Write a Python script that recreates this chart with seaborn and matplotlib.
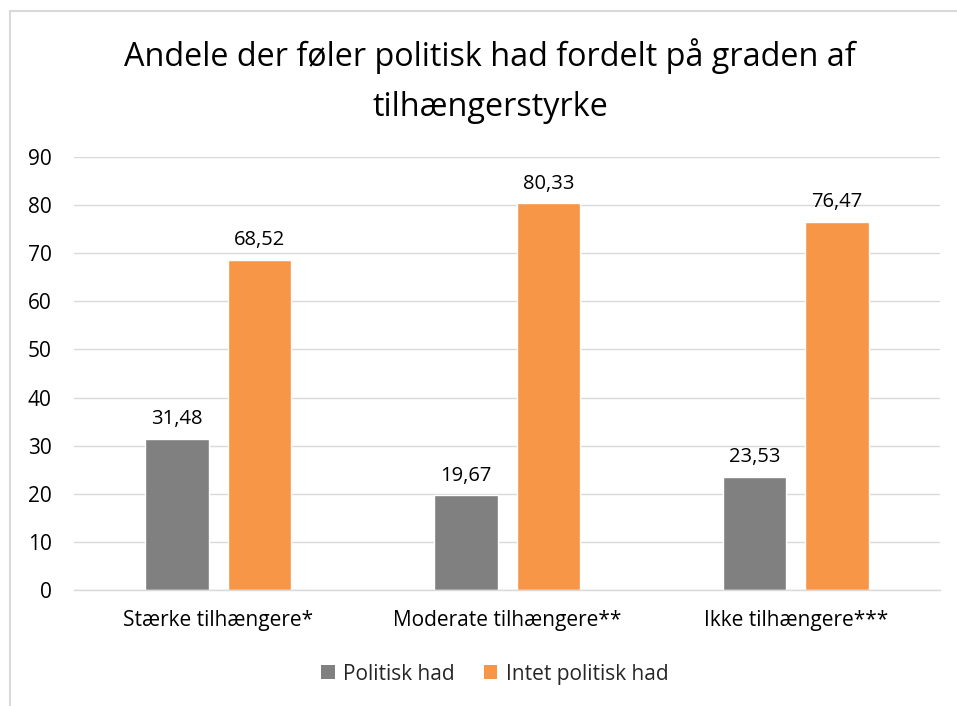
import pandas as pd
import matplotlib.pyplot as plt
import seaborn as sns
from matplotlib.lines import Line2D
from matplotlib.patches import Patch

# data
kategorier = ['Stærke tilhængere*', 'Moderate tilhængere**', 'Ikke tilhængere***']
politisk_had = [31.48, 19.67, 23.53]
intet_had = [68.52, 80.33, 76.47]
serier = ['Politisk had', 'Intet politisk had']
farver = ['#808080', '#F79646']
y_ticks = [0, 10, 20, 30, 40, 50, 60, 70, 80, 90]

dados = pd.DataFrame({
    'kategori': kategorier * 2,
    'serie': [serier[0]] * 3 + [serier[1]] * 3,
    'andel': politisk_had + intet_had,
})

sns.set_style('white')
plt.rcParams['font.family'] = ['Open Sans', 'DejaVu Sans']

fig = plt.figure(figsize=(9.57, 7.06), dpi=100)
ax = fig.add_axes([0.0773, 0.164, 0.905, 0.614])

sns.barplot(data=dados, x='kategori', y='andel', hue='serie', palette=farver,
            width=0.572, gap=0.23, saturation=1, ax=ax, legend=False)

# value labels with comma decimals
for cont in ax.containers:
    ax.bar_label(cont, labels=[f'{v:.2f}'.replace('.', ',') for v in cont.datavalues],
                 padding=7, fontsize=14.5, color='#000000')

ax.set_ylim(0, 90)
ax.set_xlim(-0.5, 2.5)
ax.set_yticks(y_ticks)
ax.yaxis.grid(True, color='#d9d9d9', linewidth=1)
ax.set_axisbelow(True)
for side in ['top', 'right', 'left']:
    ax.spines[side].set_visible(False)
ax.spines['bottom'].set_color('#d9d9d9')
ax.spines['bottom'].set_linewidth(1)
ax.tick_params(axis='both', length=0, labelsize=15, colors='#000000')
ax.tick_params(axis='y', pad=16)
ax.tick_params(axis='x', pad=14)
ax.set_xlabel('')
ax.set_ylabel('')

fig.text(0.512, 0.885, 'Andele der føler politisk had fordelt på graden af\ntilhængerstyrke',
         ha='center', va='center', fontsize=23.3, linespacing=1.65, color='#000000')

handles = [Patch(facecolor=c, edgecolor='none') for c in farver]
fig.legend(handles, serier, loc='center', bbox_to_anchor=(0.517, 0.045), ncol=2,
           frameon=False, fontsize=15, handlelength=0.65, handleheight=0.65,
           handletextpad=0.4, columnspacing=1.4)

# chart border (light grey, left and top edges visible)
fig.add_artist(Line2D([10 / 957, 10 / 957], [0, 1 - 11 / 706], transform=fig.transFigure,
                      color='#d9d9d9', linewidth=1.5))
fig.add_artist(Line2D([10 / 957, 1], [1 - 11 / 706, 1 - 11 / 706], transform=fig.transFigure,
                      color='#d9d9d9', linewidth=1.5))

fig.savefig('out.png', dpi=100, facecolor='white')
